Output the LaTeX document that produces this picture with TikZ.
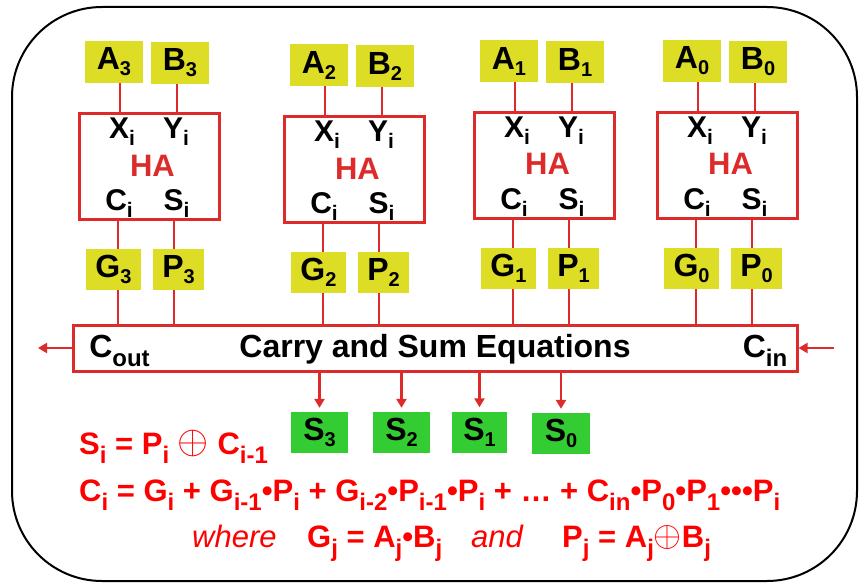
\documentclass[tikz,border=0pt]{standalone}
\usepackage{graphicx}
\usepackage{fontspec}
\setmainfont{Liberation Sans}
\usetikzlibrary{arrows.meta}
\definecolor{boxred}{RGB}{221,43,43}
\definecolor{eqred}{RGB}{255,0,0}
\definecolor{yel}{RGB}{221,221,38}
\definecolor{grn}{RGB}{51,204,51}
\newcommand{\bsub}[1]{\raisebox{-6pt}{\fontsize{20}{20}\selectfont #1}}
\newcommand{\hsub}[1]{\raisebox{-7pt}{\fontsize{21}{21}\selectfont #1}}
\newcommand{\csub}[1]{\raisebox{-9pt}{\fontsize{24}{24}\selectfont #1}}
\newcommand{\esub}[1]{\raisebox{-9pt}{\fontsize{24}{24}\selectfont #1}}
\newcommand{\oplussized}[2]{\smash{\raisebox{#2}{\fontsize{10}{12}\selectfont\scalebox{#1}{$\oplus$}}}}
\begin{document}
\begin{tikzpicture}[x=1pt,y=-1pt,
  habox/.style={draw=boxred, line width=3pt, inner sep=0pt},
  ybox/.style={fill=yel, inner sep=0pt, minimum height=42pt, font=\fontsize{32}{32}\selectfont\bfseries},
  gbox/.style={fill=grn, inner sep=0pt, minimum height=41pt, font=\fontsize{32}{32}\selectfont\bfseries},
  hal/.style={inner sep=0pt, anchor=base, font=\fontsize{30}{30}\selectfont\bfseries},
  hatext/.style={inner sep=0pt, anchor=base, text=boxred, font=\fontsize{31}{31}\selectfont\bfseries},
  wire/.style={draw=boxred, line width=2.8pt},
  arr/.style={draw=boxred, line width=2.5pt, -{Triangle[length=9pt,width=10pt]}},
  ctext/.style={inner sep=0pt, anchor=base, font=\fontsize{32}{32}\selectfont\bfseries},
  eq/.style={inner sep=0pt, anchor=base west, text=eqred, font=\fontsize{31}{31}\selectfont\bfseries},
  eqi/.style={inner sep=0pt, anchor=base west, text=eqred, font=\fontsize{31}{31}\selectfont\itshape\mdseries}
]
\useasboundingbox (0,0) rectangle (862,583);
\draw[black, line width=2pt, rounded corners=90pt] (12,7) rectangle (857,581);

% carry and sum box
\node[habox, minimum width=724pt, minimum height=46pt] (CSE) at (435,348) {};
\node[ctext] (CSEt) at (435,357) {Carry and Sum Equations};
\node[ctext] (Cout) at (119.5,357) {C\csub{out}};
\node[ctext] (Cin) at (765,357) {C\csub{in}};
\coordinate (coutend) at (38,348);
\coordinate (cinstart) at (834,348);
\draw[arr] (CSE.west) -- (coutend);
\draw[arr] (cinstart) -- (CSE.east);

\foreach \k/\L/\T in {3/78/112, 2/283/115, 1/473/111, 0/656/111} {
  \node[habox, minimum width=140pt, minimum height=106pt, anchor=north west] (HA\k) at (\L,\T) {};
  \node[ybox, minimum width=58pt] (A\k) at ({\L+36},{\T-50}) {A\bsub{\k}};
  \node[ybox, minimum width=58pt] (B\k) at ({\L+102},{\T-49}) {B\bsub{\k}};
  \node[ybox, minimum width=55pt, minimum height=41pt] (G\k) at ({\L+35.5},{\T+157.5}) {G\bsub{\k}};
  \node[ybox, minimum width=51pt, minimum height=41pt] (P\k) at ({\L+100.5},{\T+157.5}) {P\bsub{\k}};
  \node[hal] (X\k) at ({\L+44},{\T+27}) {X\hsub{i}};
  \node[hal] (Y\k) at ({\L+98},{\T+27}) {Y\hsub{i}};
  \node[hatext] (H\k) at ({\L+74.5},{\T+64}) {HA};
  \node[hal] (C\k) at ({\L+41},{\T+98}) {C\hsub{i}};
  \node[hal] (S\k) at ({\L+98.5},{\T+98}) {S\hsub{i}};
  \coordinate (xa\k) at ({\L+42},0);
  \coordinate (xb\k) at ({\L+99},0);
  \coordinate (xc\k) at ({\L+40},0);
  \coordinate (xs\k) at ({\L+96},0);
  \draw[wire] (A\k.south -| xa\k) -- (HA\k.north -| xa\k);
  \draw[wire] (B\k.south -| xb\k) -- (HA\k.north -| xb\k);
  \draw[wire] (HA\k.south -| xc\k) -- (G\k.north -| xc\k);
  \draw[wire] (HA\k.south -| xs\k) -- (P\k.north -| xs\k);
  \draw[wire] (G\k.south -| xc\k) -- (CSE.north -| xc\k);
  \draw[wire] (P\k.south -| xs\k) -- (CSE.north -| xs\k);
}

% sum outputs
\node[gbox, minimum width=57pt] (Sum3) at (319.5,432.5) {S\bsub{3}};
\node[gbox, minimum width=57pt] (Sum2) at (401.5,432.5) {S\bsub{2}};
\node[gbox, minimum width=55pt] (Sum1) at (479.5,432) {S\bsub{1}};
\node[gbox, minimum width=58pt] (Sum0) at (561,433.5) {S\bsub{0}};
\foreach \k in {3,2,1,0} {
  \draw[arr] (CSE.south -| Sum\k) -- ([yshift=4pt]Sum\k.north);
}

% equations
\node[eq] (E1) at (79,454) {S\esub{i} = P\esub{i} \oplussized{4}{0.5pt} C\esub{i-1}};
\node[eq] (E2) at (79,501) {C\esub{i} = G\esub{i} + G\esub{i-1}•P\esub{i} + G\esub{i-2}•P\esub{i-1}•P\esub{i} + … + C\esub{in}•P\esub{0}•P\esub{1}•••P\esub{i}};
\node[eqi] (W1) at (192,547) {where};
\node[eq] (W2) at (307,547) {G\esub{j} = A\esub{j}•B\esub{j}};
\node[eqi] (W3) at (471,547) {and};
\node[eq] (W4) at (562,547) {P\esub{j} = A\esub{j}\oplussized{3.6}{1pt}B\esub{j}};
\end{tikzpicture}
\end{document}
